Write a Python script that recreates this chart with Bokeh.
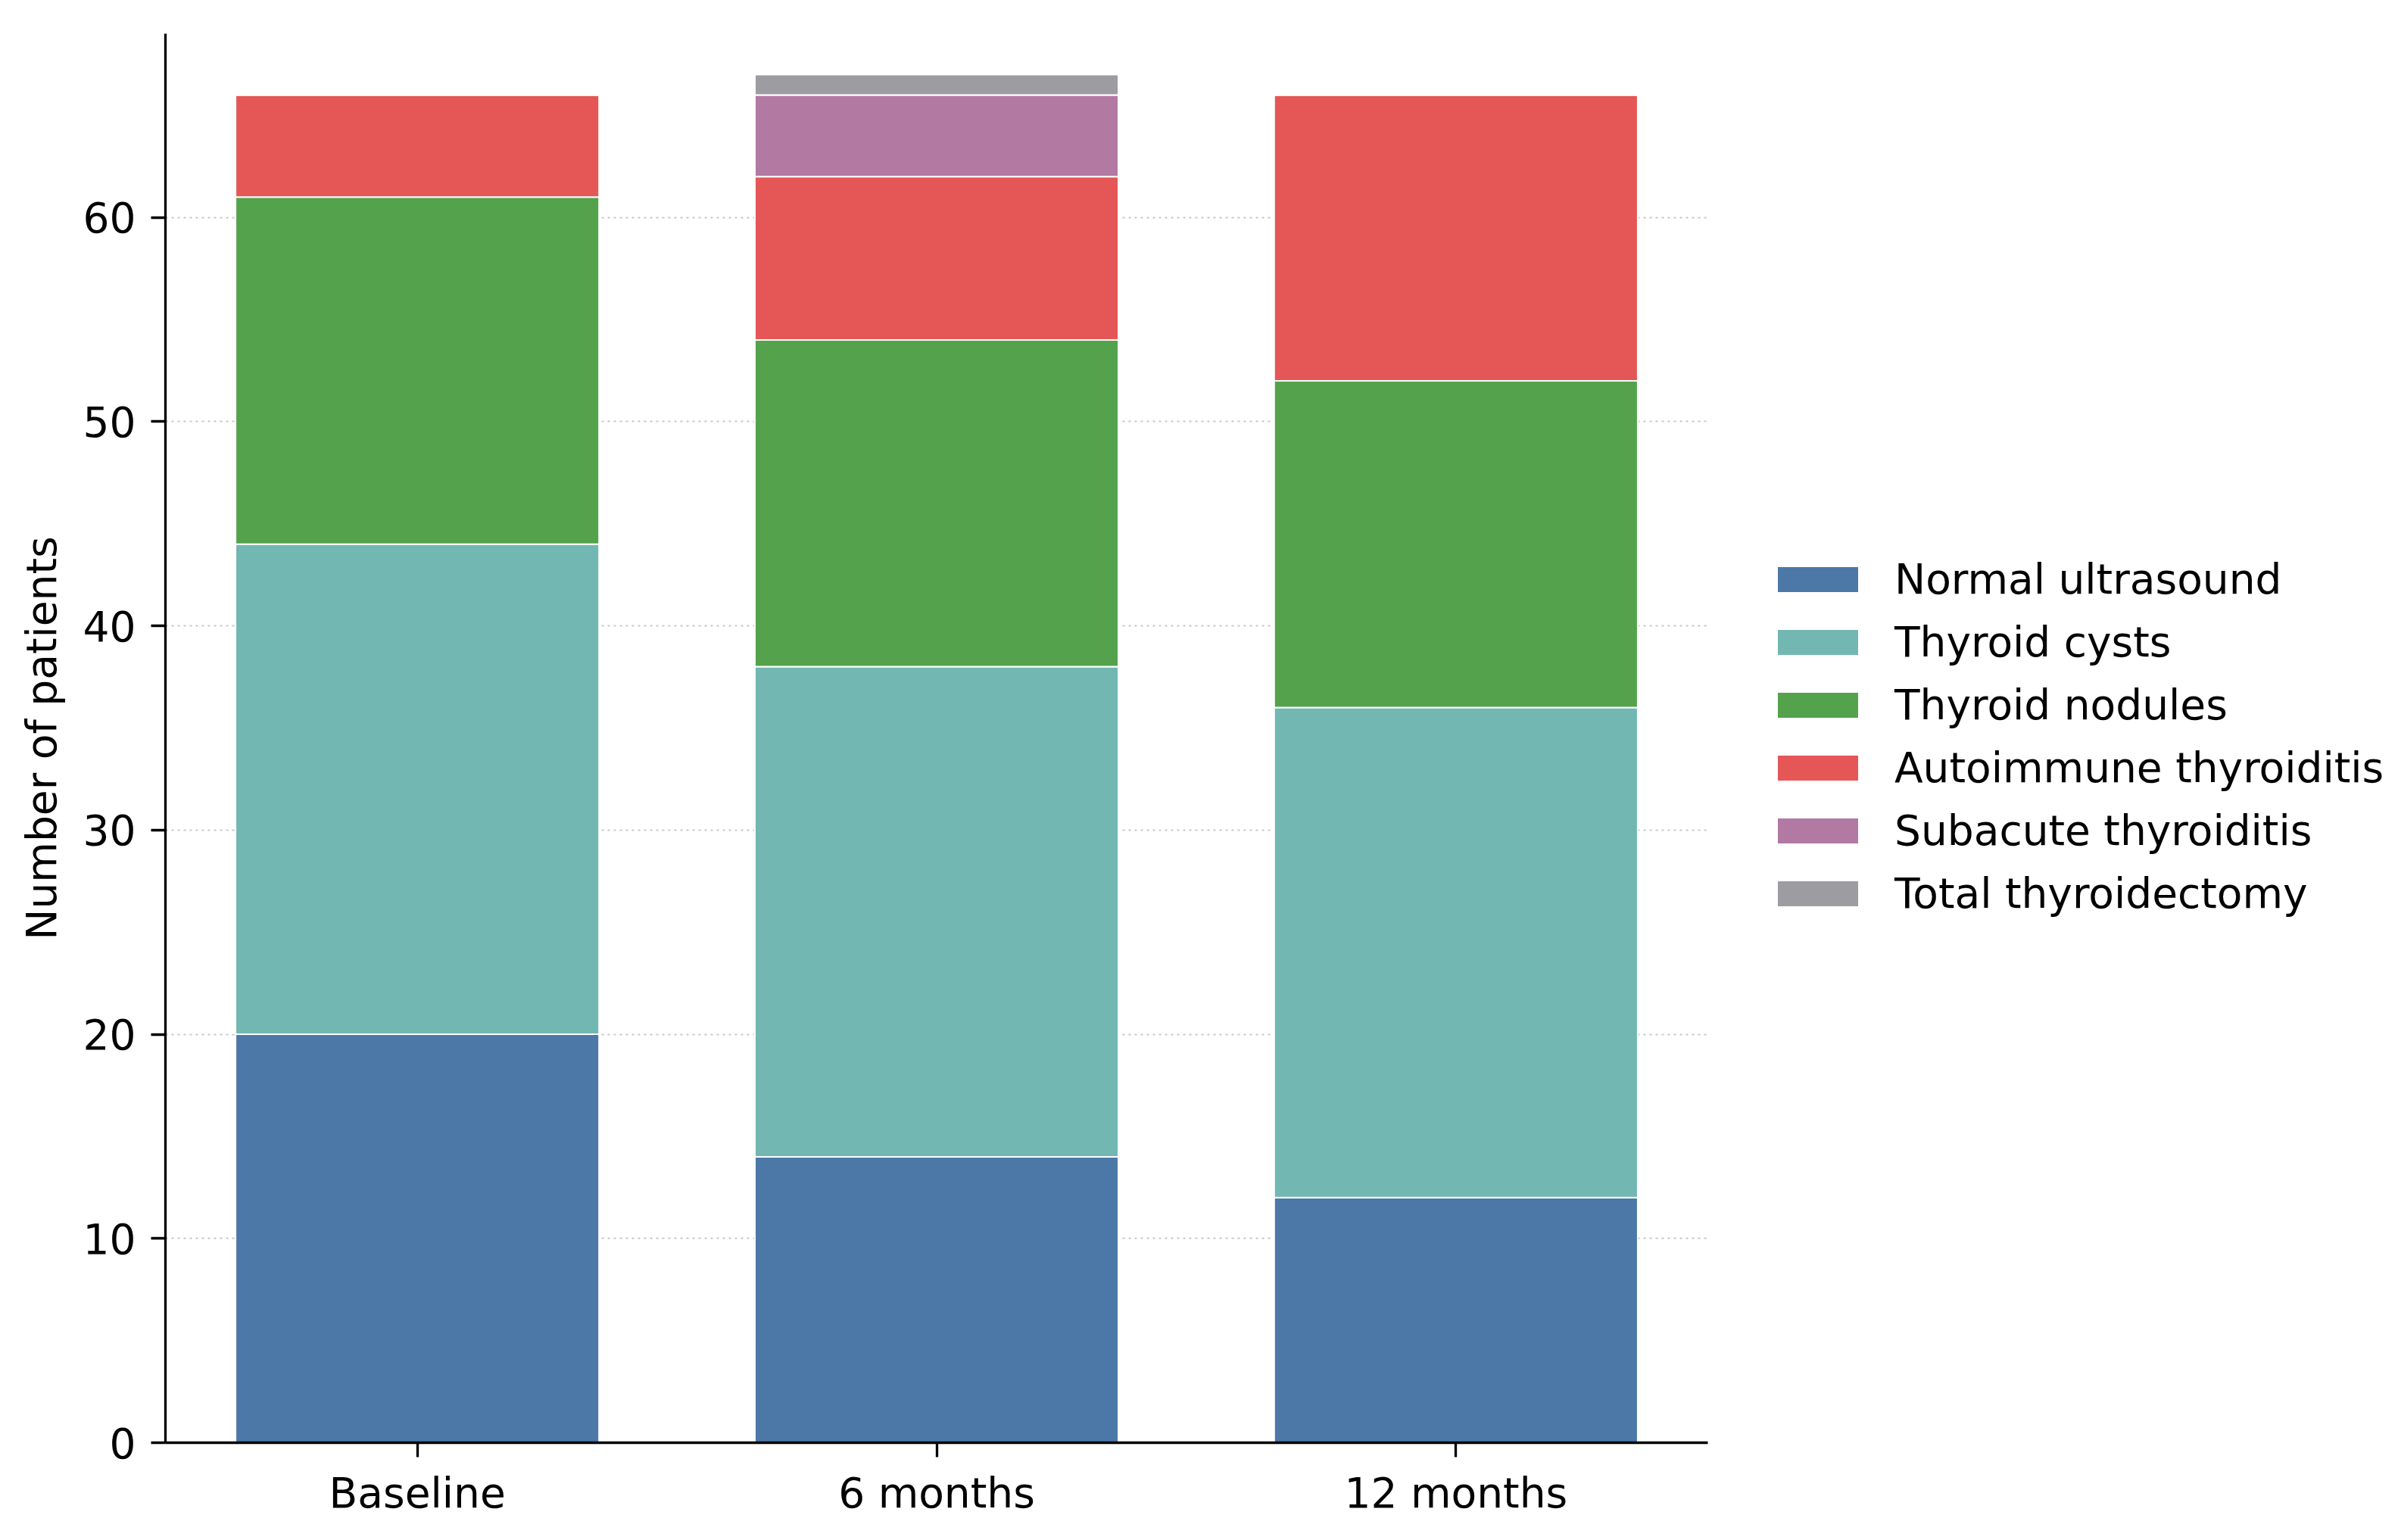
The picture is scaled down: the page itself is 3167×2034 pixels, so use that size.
from bokeh.plotting import figure
from bokeh.models import ColumnDataSource, Range1d, FixedTicker, Legend, LegendItem
from bokeh.embed import file_html
from bokeh.resources import INLINE

timepoints = ["Baseline", "6 months", "12 months"]
normal_ultrasound = [20, 14, 12]
thyroid_cysts = [24, 24, 24]
thyroid_nodules = [17, 16, 16]
autoimmune_thyroiditis = [5, 8, 14]
subacute_thyroiditis = [0, 4, 0]
total_thyroidectomy = [0, 1, 0]

series_names = ["Normal ultrasound", "Thyroid cysts", "Thyroid nodules",
                "Autoimmune thyroiditis", "Subacute thyroiditis", "Total thyroidectomy"]
series_keys = ["normal", "cysts", "nodules", "autoimmune", "subacute", "thyroidectomy"]
colors = ["#4c78a8", "#72b7b2", "#54a24b", "#e45756", "#b279a2", "#9d9da1"]
y_ticks = [0, 10, 20, 30, 40, 50, 60]

FONT = "DejaVu Sans"
FS = "55px"

# layout (pixels)
W, H = 3151, 2018
LEFT, TOP, BOTTOM, RIGHT = 218, 44, 113, 0
AXIS_W = 2037                      # drawn extent of the x axis
FRAME_W = W - LEFT - RIGHT
X0, X1 = -0.485, 2.485             # x-axis extent in data units
x_end = X0 + (X1 - X0) * FRAME_W / AXIS_W

x_pos = list(range(len(timepoints)))
data = dict(x=x_pos,
            normal=normal_ultrasound, cysts=thyroid_cysts, nodules=thyroid_nodules,
            autoimmune=autoimmune_thyroiditis, subacute=subacute_thyroiditis,
            thyroidectomy=total_thyroidectomy)
source = ColumnDataSource(data)

p = figure(width=W, height=H, output_backend="svg", toolbar_location=None,
           x_range=Range1d(X0, x_end), y_range=Range1d(0, 69),
           min_border_left=LEFT, min_border_right=RIGHT,
           min_border_top=TOP, min_border_bottom=BOTTOM)
p.outline_line_color = None
p.background_fill_color = "white"

renderers = p.vbar_stack(series_keys, x="x", width=0.7, source=source, color=colors,
                         line_color="white", line_width=2)

for ax in (p.xaxis[0], p.yaxis[0]):
    ax.axis_line_width = 3.3
    ax.axis_line_color = "black"
    ax.major_tick_line_width = 3.3
    ax.major_tick_line_color = "black"
    ax.major_tick_out = 19
    ax.major_tick_in = 0
    ax.minor_tick_line_color = None
    ax.major_label_text_font = FONT
    ax.major_label_text_font_size = FS
    ax.major_label_text_color = "black"

p.xaxis.major_label_standoff = 15
p.yaxis.major_label_standoff = 20
p.xaxis.ticker = FixedTicker(ticks=x_pos)
p.xaxis.major_label_overrides = {i: t for i, t in zip(x_pos, timepoints)}
p.xaxis.bounds = (X0, X1)
p.yaxis.ticker = FixedTicker(ticks=y_ticks)
p.yaxis.axis_label = "Number of patients"
p.yaxis.axis_label_text_font = FONT
p.yaxis.axis_label_text_font_size = FS
p.yaxis.axis_label_text_font_style = "normal"
p.yaxis.axis_label_text_color = "black"
p.yaxis.axis_label_standoff = 20

p.xgrid.grid_line_color = None
p.ygrid.grid_line_color = "#c8c8c8"
p.ygrid.grid_line_width = 2
p.ygrid.grid_line_dash = "3 5"
p.ygrid.cross_bounds = (X0, X1)

items = [LegendItem(label=n, renderers=[r]) for n, r in zip(series_names, renderers)]
legend = Legend(items=items, location=(2115, 693))
legend.border_line_color = None
legend.background_fill_alpha = 0
legend.padding = 0
legend.margin = 0
legend.glyph_width = 135
legend.glyph_height = 44
legend.label_standoff = 34
legend.label_text_font = FONT
legend.label_text_font_size = FS
legend.label_text_color = "black"
legend.spacing = 19
p.add_layout(legend)

open("out.html", "w").write(file_html(p, INLINE))
